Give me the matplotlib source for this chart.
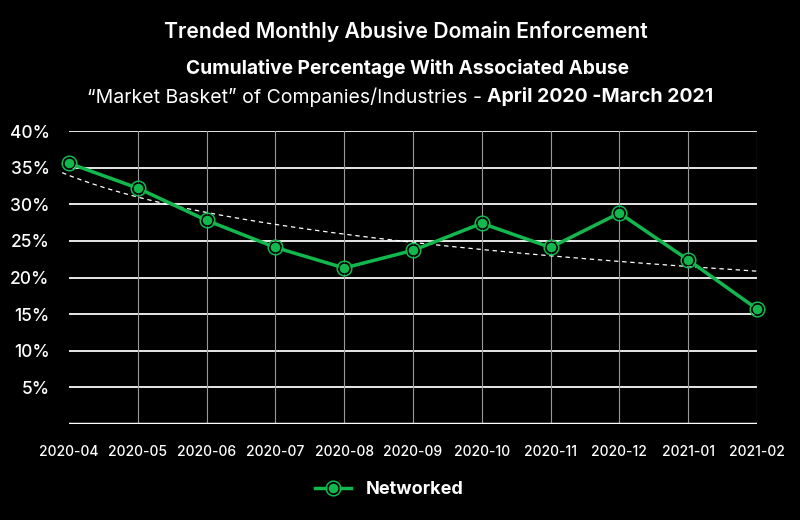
import numpy as np
import matplotlib
matplotlib.use("Agg")
import matplotlib.pyplot as plt
from matplotlib.lines import Line2D

# data
months = ["2020-04", "2020-05", "2020-06", "2020-07", "2020-08", "2020-09",
          "2020-10", "2020-11", "2020-12", "2021-01", "2021-02"]
networked = [35.6, 32.2, 27.8, 24.1, 21.3, 23.7, 27.4, 24.1, 28.8, 22.4, 15.7]
yticks = [5, 10, 15, 20, 25, 30, 35, 40]

green = "#12b84e"
plt.rcParams["font.family"] = ["Inter", "DejaVu Sans"]

fig = plt.figure(figsize=(8, 5.2), dpi=100, facecolor="black")
ax = fig.add_axes([69 / 800, 1 - 424 / 520, (757 - 69) / 800, (424 - 131) / 520])
ax.set_facecolor("black")

x = np.arange(len(months))

# logarithmic trendline fitted on the series
coef = np.polyfit(np.log(x + 2), networked, 1)
xt = np.linspace(-0.1, len(months) - 1, 200)
yt = coef[0] * np.log(xt + 2) + coef[1]
ax.plot(xt, yt, color="white", lw=0.9, ls=(0, (3.5, 3)), zorder=3, clip_on=False)

ax.plot(x, networked, color=green, lw=2.5, zorder=4)
ax.plot(x, networked, ls="none", marker="o", ms=10.5, mfc="none", mec=green,
        mew=1.1, zorder=5, clip_on=False)
ax.plot(x, networked, ls="none", marker="o", ms=7.8, mfc=green, mec="black",
        mew=0.9, zorder=6, clip_on=False)

ax.set_xlim(0, len(months) - 1)
ax.set_ylim(0, 40)
ax.set_xticks(x)
ax.set_xticklabels(months)
ax.set_yticks(yticks)
ax.set_yticklabels([f"{v}%" for v in yticks])
ax.tick_params(axis="x", colors="white", labelsize=10, length=0, pad=15)
ax.tick_params(axis="y", colors="white", labelsize=12.5, length=0, pad=14)
for t in ax.get_xticklabels() + ax.get_yticklabels():
    t.set_fontweight("medium")

for v in yticks:
    ax.axhline(v, color="#e8e8e8", lw=1.4, zorder=1)
for i in x[1:]:
    ax.axvline(i, color="#9a9a9a", lw=0.8, zorder=1)
ax.axhline(0, color="white", lw=2.5, zorder=2)
for s in ax.spines.values():
    s.set_visible(False)

# titles
fig.text(0.507, 1 - 32 / 520, "Trended Monthly Abusive Domain Enforcement",
         color="white", fontsize=15.2, fontweight="semibold", ha="center", va="center")
fig.text(0.509, 1 - 68 / 520, "Cumulative Percentage With Associated Abuse",
         color="white", fontsize=13.8, fontweight="bold", ha="center", va="center")

r = fig.canvas.get_renderer()
t1 = fig.text(0, 1 - 97 / 520, "\u201cMarket Basket\u201d of Companies/Industries - ",
              color="white", fontsize=14, ha="left", va="center")
t2 = fig.text(0, 1 - 97 / 520, "April 2020 -March 2021",
              color="white", fontsize=14, fontweight="bold", ha="left", va="center")
w1 = t1.get_window_extent(r).width / 800
w2 = t2.get_window_extent(r).width / 800
start = 0.5 - (w1 + w2) / 2
t1.set_x(start)
t2.set_x(start + w1)

# legend
h = Line2D([], [], color=green, lw=2.5, marker="o", ms=7.8, mfc=green, mec="black", mew=0.9)
h2 = Line2D([], [], color=green, lw=0, marker="o", ms=10.5, mfc="none", mec=green, mew=1.1)
leg = fig.legend([(h, h2)], ["Networked"], loc="center", bbox_to_anchor=(0.487, 1 - 490 / 520),
                 frameon=False, fontsize=13, handlelength=2.0)
for t in leg.get_texts():
    t.set_color("white")
    t.set_fontweight("bold")

fig.savefig("out.png", dpi=100, facecolor="black")
